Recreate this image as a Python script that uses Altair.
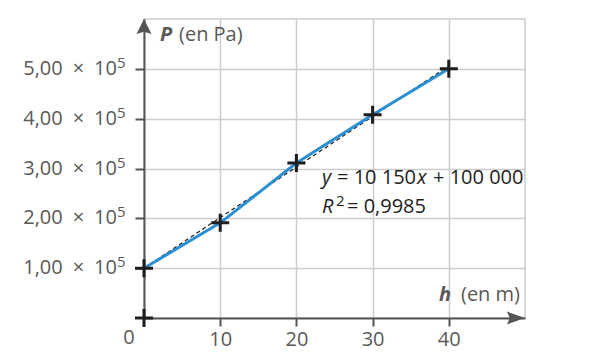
import altair as alt
import pandas as pd

# ---- data ----
h = [0, 10, 20, 30, 40]
P = [1.00e5, 1.91e5, 3.11e5, 4.08e5, 5.00e5]
origin_h = [0]
origin_P = [0]
slope = 10150
intercept = 100000
fit_h = [0, 40]
fit_P = [slope * x + intercept for x in fit_h]
x_ticks = [10, 20, 30, 40]
y_ticks = [1e5, 2e5, 3e5, 4e5, 5e5]
y_mant = ["1,00", "2,00", "3,00", "4,00", "5,00"]
X_MAX = 50
Y_MAX = 6e5

FONT = "Open Sans"
GRAY = "#595959"
AX = "#555555"
BLACK = "#1e1e1e"
BLUE = "#2b8fd3"
FS = 20

xs = alt.Scale(domain=[0, X_MAX], nice=False, zero=True)
ys = alt.Scale(domain=[0, Y_MAX], nice=False, zero=True)

x_axis = alt.Axis(values=x_ticks, title=None, grid=True, gridColor="#cccccc", gridWidth=1.5,
                  domainColor=AX, domainWidth=2, tickColor=AX, tickWidth=2, tickSize=8,
                  labelFont=FONT, labelFontSize=FS, labelColor=GRAY, labelPadding=3)
y_axis = alt.Axis(values=y_ticks, title=None, labels=False, grid=True, gridColor="#cccccc",
                  gridWidth=1.5, domainColor=AX, domainWidth=2, tickColor=AX, tickWidth=2,
                  tickSize=9)


def ex():
    return alt.X("h:Q", scale=xs, axis=x_axis)


def ey():
    return alt.Y("P:Q", scale=ys, axis=y_axis)


df = pd.DataFrame({"h": h, "P": P})
df_o = pd.DataFrame({"h": origin_h, "P": origin_P})
df_fit = pd.DataFrame({"h": fit_h, "P": fit_P})

CROSS = "M-1,-0.17H-0.17V-1H0.17V-0.17H1V0.17H0.17V1H-0.17V0.17H-1Z"

fit = alt.Chart(df_fit).mark_line(color=BLACK, strokeWidth=1.2, strokeDash=[4, 3]).encode(x=ex(), y=ey())
line = alt.Chart(df).mark_line(color=BLUE, strokeWidth=3).encode(x=ex(), y=ey())
pts = alt.Chart(pd.concat([df, df_o])).mark_point(shape=CROSS, size=324, filled=True,
                                                  color=BLACK, opacity=1).encode(x=ex(), y=ey())

# arrows at ends of axes
df_ya = pd.DataFrame({"h": [0], "P": [Y_MAX]})
df_xa = pd.DataFrame({"h": [X_MAX], "P": [0]})
ya = alt.Chart(df_ya).mark_point(shape="M0,0L0.5,1L0,0.85L-0.5,1Z", size=900, filled=True,
                                 color=AX, opacity=1).encode(x=ex(), y=ey())
xa = alt.Chart(df_xa).mark_point(shape="M0,0L-1,0.36L-0.85,0L-1,-0.36Z", size=1296, filled=True,
                                 color=AX, opacity=1).encode(x=ex(), y=ey())

# y tick labels with superscript exponent
df_yl = pd.DataFrame({"h": [0] * len(y_ticks), "P": y_ticks,
                      "t": [m + "\u2002×\u200210" for m in y_mant], "e": ["5"] * len(y_ticks)})
yl = alt.Chart(df_yl).mark_text(align="right", baseline="middle", dx=-27, font=FONT, fontSize=FS,
                                color=GRAY).encode(x=ex(), y=ey(), text="t:N")
ye = alt.Chart(df_yl).mark_text(align="left", baseline="middle", dx=-27, dy=-6, font=FONT,
                                fontSize=15, color=GRAY).encode(x=ex(), y=ey(), text="e:N")


def txt(hv, pv, s, dx, dy, align="left", size=FS, color=GRAY, style="normal", weight="normal"):
    d = pd.DataFrame({"h": [hv], "P": [pv], "t": [s]})
    return alt.Chart(d).mark_text(align=align, baseline="middle", dx=dx, dy=dy, font=FONT,
                                  fontSize=size, color=color, fontStyle=style,
                                  fontWeight=weight).encode(x=ex(), y=ey(), text="t:N")


texts = [
    txt(0, Y_MAX, "P", 16, 16, style="italic", weight="bold"),
    txt(0, Y_MAX, "(en Pa)", 35, 16),
    txt(X_MAX, 0, "(en m)", -5, -23, align="right"),
    txt(X_MAX, 0, "h", -74, -23, align="right", style="italic", weight="bold"),
    txt(0, 0, "0", -15, 20, align="center"),
]

eq_h = 23.36
eq1_P = 2.81e5
eq2_P = 2.226e5
texts += [
    txt(eq_h, eq1_P, "y", 0, 0, color=BLACK, style="italic"),
    txt(eq_h, eq1_P, "= 10 150", 15, 0, color=BLACK),
    txt(eq_h, eq1_P, "x", 95, 0, color=BLACK, style="italic"),
    txt(eq_h, eq1_P, "+ 100 000", 111, 0, color=BLACK),
    txt(eq_h, eq2_P, "R", 0, 0, color=BLACK, style="italic"),
    txt(eq_h, eq2_P, "2", 14, -6, size=15, color=BLACK),
    txt(eq_h, eq2_P, "= 0,9985", 25, 0, color=BLACK),
]

chart = alt.layer(fit, line, pts, ya, xa, yl, ye, *texts).properties(
    width=381, height=299, autosize="none",
    padding={"left": 136, "top": 11, "right": 60, "bottom": 33},
).configure_view(stroke="#cccccc", strokeWidth=1.5)

chart.save("out.html", embed_options={"renderer": "svg", "actions": False})
